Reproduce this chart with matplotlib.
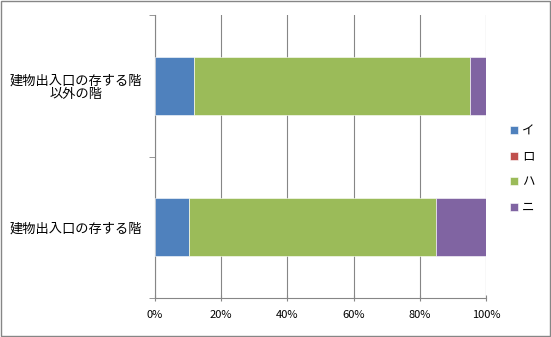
import matplotlib
matplotlib.use("Agg")
import matplotlib.pyplot as plt
from matplotlib.ticker import FuncFormatter, FixedLocator
import numpy as np

plt.rcParams['font.family'] = ['Noto Sans CJK JP', 'DejaVu Sans']

categories = ["建物出入口の存する階", "建物出入口の存する階\n以外の階"]
series_names = ["イ", "ロ", "ハ", "ニ"]
values = {
    "イ": [10.4, 11.8],
    "ロ": [0.0, 0.0],
    "ハ": [74.5, 83.4],
    "ニ": [15.1, 4.8],
}
colors = {"イ": "#4F81BD", "ロ": "#C0504D", "ハ": "#9BBB59", "ニ": "#8064A2"}
xticks = [0, 20, 40, 60, 80, 100]

fig = plt.figure(figsize=(5.51, 3.37), dpi=100)
fig.patches.append(plt.Rectangle((0.001, 0.002), 0.997, 0.995, transform=fig.transFigure,
                                 fill=False, edgecolor="#868686", linewidth=1.0))
ax = fig.add_axes([155/551, 1-298/337, (486-155)/551, (298-15)/337])

y = np.arange(len(categories))
left = np.zeros(len(categories))
for name in series_names:
    v = np.array(values[name])
    ax.barh(y, v, left=left, height=0.41, color=colors[name], label=name,
            edgecolor="white", linewidth=0.4, zorder=3)
    left += v

ax.set_xlim(0, 100)
ax.set_ylim(-0.5, 1.5)
ax.xaxis.set_major_locator(FixedLocator(xticks))
ax.xaxis.set_major_formatter(FuncFormatter(lambda x, p: f"{int(x)}%"))
ax.grid(axis="x", color="#868686", linewidth=0.8, zorder=0)
ax.set_yticks(y)
ax.set_yticklabels(categories, fontsize=9.5, ha="center", multialignment="center",
                   linespacing=1.1)
ax.yaxis.set_minor_locator(FixedLocator([-0.5, 0.5, 1.5]))
ax.tick_params(axis="y", which="major", length=0, pad=57)
ax.tick_params(axis="y", which="minor", length=4, color="#868686", direction="out")
ax.tick_params(axis="x", which="major", length=5, color="#868686", direction="inout", labelsize=8, pad=6)
for s in ["top", "right"]:
    ax.spines[s].set_visible(False)
for s in ["left", "bottom"]:
    ax.spines[s].set_color("#868686")

leg = ax.legend(loc="center left", bbox_to_anchor=(1.04, 0.455), frameon=False,
                fontsize=9, handlelength=0.6, handleheight=0.6, labelspacing=1.0,
                handletextpad=0.3)

fig.savefig("out.png", dpi=100)
